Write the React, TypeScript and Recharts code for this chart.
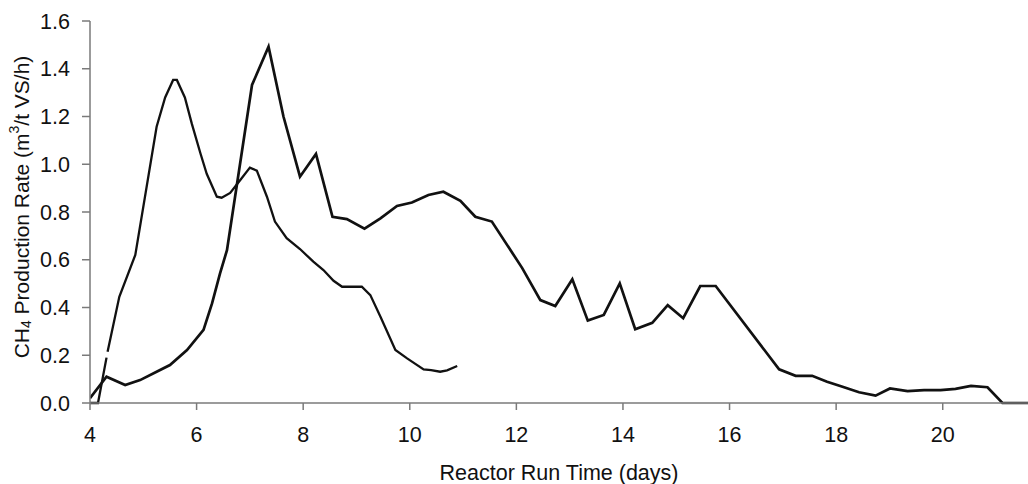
import React from 'react';
import { LineChart, Line, XAxis, YAxis } from 'recharts';

// run 1 (early peak, ends near day 11)
const runADays = [4.0, 4.15, 4.31, 4.32, 4.33, 4.55, 4.85, 5.25, 5.41, 5.56, 5.63, 5.78, 5.91, 6.07, 6.19, 6.38, 6.47, 6.63, 6.82, 7.0, 7.13, 7.32, 7.47, 7.69, 7.94, 8.19, 8.38, 8.57, 8.73, 9.1, 9.26, 9.45, 9.73, 9.95, 10.26, 10.4, 10.57, 10.7, 10.89];
const runARate = [0, 0, 0.19, null, 0.215, 0.445, 0.62, 1.157, 1.28, 1.353, 1.353, 1.28, 1.17, 1.047, 0.96, 0.864, 0.86, 0.88, 0.934, 0.986, 0.973, 0.864, 0.76, 0.69, 0.645, 0.592, 0.557, 0.512, 0.487, 0.487, 0.452, 0.361, 0.222, 0.187, 0.141, 0.138, 0.131, 0.137, 0.155];

// run 2 (peak near day 7.4, runs to day 21)
const runBDays = [4.0, 4.31, 4.66, 4.94, 5.25, 5.5, 5.82, 6.13, 6.29, 6.44, 6.57, 7.04, 7.35, 7.63, 7.94, 8.24, 8.55, 8.82, 9.15, 9.45, 9.76, 10.04, 10.35, 10.63, 10.95, 11.23, 11.54, 12.11, 12.45, 12.73, 13.05, 13.34, 13.64, 13.94, 14.23, 14.55, 14.84, 15.13, 15.45, 15.74, 16.93, 17.24, 17.55, 17.83, 18.12, 18.43, 18.74, 19.01, 19.34, 19.65, 19.96, 20.24, 20.53, 20.84, 21.12, 21.6];
const runBRate = [0.02, 0.11, 0.075, 0.096, 0.131, 0.159, 0.222, 0.306, 0.417, 0.543, 0.64, 1.332, 1.492, 1.2, 0.948, 1.043, 0.78, 0.77, 0.73, 0.773, 0.825, 0.84, 0.871, 0.885, 0.847, 0.78, 0.76, 0.565, 0.431, 0.406, 0.518, 0.345, 0.369, 0.501, 0.309, 0.336, 0.41, 0.355, 0.49, 0.49, 0.141, 0.114, 0.114, 0.089, 0.068, 0.045, 0.031, 0.061, 0.05, 0.054, 0.054, 0.059, 0.072, 0.066, 0, 0];

const xTicks = [4, 6, 8, 10, 12, 14, 16, 18, 20];
const yTicks = [0, 0.2, 0.4, 0.6, 0.8, 1.0, 1.2, 1.4, 1.6];

const FONT = '"Liberation Sans", Arial, sans-serif';

const runA = runADays.map((d, i) => ({ x: d, y: runARate[i] }));
const runB = runBDays.map((d, i) => ({ x: d, y: runBRate[i] }));

const YTitle = (props: any) => {
  const vb = props.viewBox || { x: 0, y: 0, width: 90, height: 382 };
  const cx = vb.x + 21;
  const cy = vb.y + vb.height / 2 - 5;
  return (
    <text
      x={cx}
      y={cy}
      transform={`rotate(-90, ${cx}, ${cy})`}
      textAnchor="middle"
      dominantBaseline="central"
      fontFamily={FONT}
      fontSize={21}
      fill="#111"
    >
      CH
      <tspan fontSize={14} dy={5}>4</tspan>
      <tspan dy={-5}> Production Rate (m</tspan>
      <tspan fontSize={14} dy={-7}>3</tspan>
      <tspan dy={7}>/t VS/h)</tspan>
    </text>
  );
};

const XTitle = (props: any) => {
  const vb = props.viewBox || { x: 90, y: 403, width: 938, height: 81 };
  return (
    <text
      x={vb.x + vb.width / 2}
      y={vb.y + 77}
      textAnchor="middle"
      fontFamily={FONT}
      fontSize={21.5}
      fill="#111"
    >
      Reactor Run Time (days)
    </text>
  );
};

export default function App() {
  return (
    <div style={{ position: 'absolute', left: 0, top: 0, width: 1028, height: 484, background: '#fff' }}>
      <LineChart width={1028} height={484} margin={{ top: 21, right: 0, bottom: 0, left: 0 }}>
        <XAxis
          type="number"
          dataKey="x"
          domain={[4, 21.6]}
          ticks={xTicks}
          allowDataOverflow
          height={81}
          stroke="#7a7a7a"
          strokeWidth={1.5}
          tickSize={7}
          tickMargin={17}
          tick={{ fill: '#111', fontSize: 21.5, fontFamily: FONT }}
          label={<XTitle />}
        />
        <YAxis
          type="number"
          dataKey="y"
          domain={[0, 1.6]}
          ticks={yTicks}
          width={90}
          stroke="#7a7a7a"
          strokeWidth={1.5}
          tickSize={8}
          tickMargin={12}
          tickFormatter={(v: number) => v.toFixed(1)}
          tick={{ fill: '#111', fontSize: 21.5, fontFamily: FONT }}
          label={<YTitle />}
        />
        <Line
          data={runA}
          dataKey="y"
          type="linear"
          stroke="#111"
          strokeWidth={2.3}
          dot={false}
          connectNulls={false}
          isAnimationActive={false}
        />
        <Line
          data={runB}
          dataKey="y"
          type="linear"
          stroke="#111"
          strokeWidth={2.7}
          dot={false}
          isAnimationActive={false}
        />
      </LineChart>
    </div>
  );
}
